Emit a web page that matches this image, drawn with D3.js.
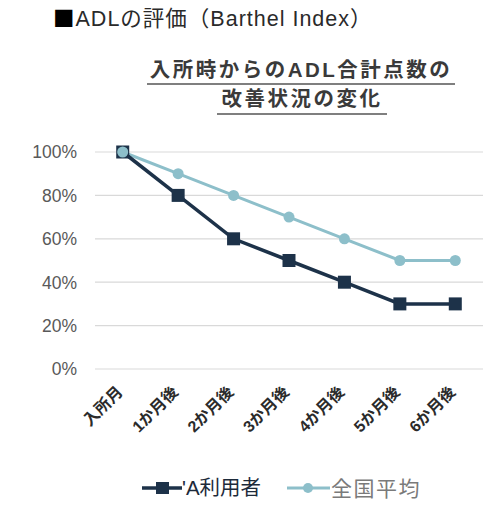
<!DOCTYPE html>
<html>
<head>
<meta charset="utf-8">
<script src="https://cdn.jsdelivr.net/npm/d3@7"></script>
<style>
  body { margin: 0; background: #fff; }
  text { font-family: "Liberation Sans", "Noto Sans CJK JP", sans-serif; }
</style>
</head>
<body>
<svg id="chart" width="484" height="505"></svg>
<script>
var months = ["入所月", "1か月後", "2か月後", "3か月後", "4か月後", "5か月後", "6か月後"]
var userValues = [100, 80, 60, 50, 40, 30, 30]
var nationalValues = [100, 90, 80, 70, 60, 50, 50]
var yTicks = [0, 20, 40, 60, 80, 100]
var seriesNames = ["'A利用者", "全国平均"]
var seriesColors = ["#1d3249", "#8dbfca"]

var svg = d3.select("#chart")

var x = d3.scaleBand()
          .domain(months)
          .range([95, 483])

var y = d3.scaleLinear()
          .domain([0, 100])
          .range([369, 152])

// title
var title = svg.append("text")
    .attr("x", 53)
    .attr("y", 26)
    .attr("font-size", 21.5)
    .attr("letter-spacing", 1)
    .attr("fill", "#2a2a2a")
title.append("tspan")
    .attr("font-family", "Noto Sans CJK JP")
    .attr("fill", "#000")
    .text("■")
title.append("tspan")
    .text("ADLの評価（Barthel Index）")

svg.append("text")
    .attr("x", 301)
    .attr("y", 77)
    .attr("text-anchor", "middle")
    .attr("font-size", 20.5)
    .attr("font-weight", "bold")
    .attr("letter-spacing", 2.5)
    .attr("fill", "#3a3a3a")
    .text("入所時からのADL合計点数の")

svg.append("text")
    .attr("x", 302)
    .attr("y", 106)
    .attr("text-anchor", "middle")
    .attr("font-size", 20.5)
    .attr("font-weight", "bold")
    .attr("letter-spacing", 2.5)
    .attr("fill", "#3a3a3a")
    .text("改善状況の変化")

// underlines under the subtitle
svg.append("line")
    .attr("x1", 147).attr("x2", 455)
    .attr("y1", 84).attr("y2", 84)
    .attr("stroke", "#555").attr("stroke-width", 1.5)
svg.append("line")
    .attr("x1", 217).attr("x2", 387)
    .attr("y1", 114).attr("y2", 114)
    .attr("stroke", "#555").attr("stroke-width", 1.5)

// gridlines
svg.selectAll("grid")
    .data(yTicks).enter()
    .append("line")
        .attr("x1", 95)
        .attr("x2", 483)
        .attr("y1", function(d){ return y(d) })
        .attr("y2", function(d){ return y(d) })
        .attr("stroke", "#d9d9d9")
        .attr("stroke-width", 1.2)

svg.selectAll("ylabels")
    .data(yTicks).enter()
    .append("text")
        .attr("x", 77)
        .attr("y", function(d){ return y(d) })
        .attr("dy", "0.36em")
        .attr("text-anchor", "end")
        .attr("font-size", 17.5)
        .attr("fill", "#595959")
        .text(function(d){ return d + "%" })

svg.selectAll("xlabels")
    .data(months).enter()
    .append("text")
        .attr("transform", function(d){
            return "translate(" + (x(d) + x.bandwidth() / 2 + 1) + ",393) rotate(-45)"
        })
        .attr("text-anchor", "end")
        .attr("font-size", 16)
        .attr("font-weight", "bold")
        .attr("fill", "#2b2b2b")
        .text(function(d){ return d })

var line = d3.line()
    .x(function(d, i){ return x(months[i]) + x.bandwidth() / 2 })
    .y(function(d){ return y(d) })

// national average (behind)
svg.append("path")
    .datum(nationalValues)
    .attr("d", line)
    .attr("fill", "none")
    .attr("stroke", seriesColors[1])
    .attr("stroke-width", 3)

svg.append("path")
    .datum(userValues)
    .attr("d", line)
    .attr("fill", "none")
    .attr("stroke", seriesColors[0])
    .attr("stroke-width", 3.5)

svg.selectAll("usermarks")
    .data(userValues).enter()
    .append("rect")
        .attr("x", function(d, i){ return x(months[i]) + x.bandwidth() / 2 - 6.5 })
        .attr("y", function(d){ return y(d) - 6.5 })
        .attr("width", 13)
        .attr("height", 13)
        .attr("fill", seriesColors[0])

svg.selectAll("natmarks")
    .data(nationalValues).enter()
    .append("circle")
        .attr("cx", function(d, i){ return x(months[i]) + x.bandwidth() / 2 })
        .attr("cy", function(d){ return y(d) })
        .attr("r", 5.5)
        .attr("fill", seriesColors[1])

// legend
var ly = 488
svg.append("line")
    .attr("x1", 142).attr("x2", 182)
    .attr("y1", ly).attr("y2", ly)
    .attr("stroke", seriesColors[0]).attr("stroke-width", 3.5)
svg.append("rect")
    .attr("x", 156).attr("y", ly - 6)
    .attr("width", 13).attr("height", 12)
    .attr("fill", seriesColors[0])
svg.append("text")
    .attr("x", 182).attr("y", ly).attr("dy", "0.36em")
    .attr("font-size", 20.5)
    .attr("fill", "#1d2a3a")
    .text(seriesNames[0])

svg.append("line")
    .attr("x1", 287).attr("x2", 330)
    .attr("y1", ly).attr("y2", ly)
    .attr("stroke", seriesColors[1]).attr("stroke-width", 3)
svg.append("circle")
    .attr("cx", 308).attr("cy", ly).attr("r", 5)
    .attr("fill", seriesColors[1])
svg.append("text")
    .attr("x", 331).attr("y", ly).attr("dy", "0.36em")
    .attr("font-size", 21)
    .attr("letter-spacing", 1.5)
    .attr("fill", "#7a7a7a")
    .text(seriesNames[1])
</script>
</body>
</html>
